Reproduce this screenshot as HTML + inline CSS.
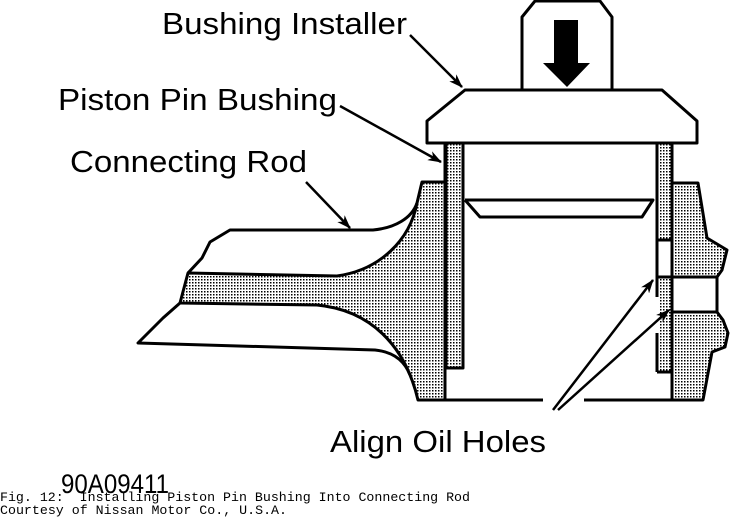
<!DOCTYPE html>
<html><head><meta charset="utf-8"><style>
html,body{margin:0;padding:0;background:#fff;}
svg{display:block;}
</style></head><body>
<svg width="730" height="518" viewBox="0 0 730 518" xmlns="http://www.w3.org/2000/svg">
<defs>
<pattern id="st" width="3" height="3" patternUnits="userSpaceOnUse">
<rect width="3" height="3" fill="#fff"/>
<rect x="0" y="0" width="1.5" height="1.5" fill="#000"/>
</pattern>
<marker id="ah" markerWidth="14" markerHeight="10" refX="13" refY="5" orient="auto" markerUnits="userSpaceOnUse">
<path d="M0,0 L14,5 L0,10 L4,5 Z" fill="#000"/>
</marker>
</defs>
<g stroke="#000" stroke-width="3" fill="none" stroke-linejoin="round">
<path d="M522,90 L522,17 L535,1 L600,1 L612,17 L612,90" fill="#fff"/>
<path d="M465,90 L662,90 L697,121 L697,143 L427,143 L427,121 Z" fill="#fff"/>
<path d="M422,182 L445,182 L445,400 L418,400 C405,345 370,310 317,305 L180,303 L188,273 L337,276 C380,270 410,240 417,203 Z" fill="url(#st)"/>
<path d="M188,273 L202,258 L210,242 L230,230 L373,230 C395,228 412,218 417,203"/>
<path d="M180,303 L163,318 L138,343 L375,350 C395,352 405,362 410,375"/>
<rect x="446" y="143" width="17" height="225" fill="url(#st)"/>
<line x1="445" y1="143" x2="445" y2="400"/>
<line x1="672" y1="143" x2="672" y2="400"/>
<line x1="420" y1="400" x2="543" y2="400"/>
<line x1="584" y1="400" x2="703" y2="400"/>
<path d="M465,200 L653,200 L642,217 L480,217 L465,200"/>
<rect x="657" y="143" width="15" height="97" fill="url(#st)"/>
<rect x="657" y="240" width="15" height="37" fill="#fff"/>
<rect x="660" y="277" width="12" height="56" fill="url(#st)" stroke="none"/>
<line x1="657" y1="277" x2="672" y2="277"/>
<line x1="657" y1="277" x2="657" y2="297"/>
<rect x="658" y="333" width="13" height="39" fill="url(#st)" stroke="none"/>
<line x1="657" y1="333" x2="657" y2="372"/>
<line x1="657" y1="372" x2="672" y2="372"/>
<path d="M672,183 L698,183 L707,238 L727,250 L722,270 L717,277 L672,277 Z" fill="url(#st)"/>
<path d="M672,277 L717,277 L717,312 L672,312" fill="#fff"/>
<path d="M672,312 L717,312 L723,320 L728,333 L725,347 L712,352 L703,400 L672,400 Z" fill="url(#st)"/>
<line x1="672" y1="143" x2="672" y2="400"/>
</g>
<path d="M554,20 L578,20 L578,63 L590,63 L567,87 L543,63 L554,63 Z" fill="#000"/>
<g stroke="#000" stroke-width="2.5" fill="none">
<line x1="410" y1="35" x2="462" y2="87" marker-end="url(#ah)"/>
<line x1="340" y1="106" x2="441" y2="162" marker-end="url(#ah)"/>
<line x1="306" y1="182" x2="350" y2="228" marker-end="url(#ah)"/>
<line x1="553" y1="410" x2="653" y2="280" marker-end="url(#ah)"/>
<line x1="558" y1="410" x2="669" y2="310" marker-end="url(#ah)"/>
</g>
<g font-family="Liberation Sans, Arial, sans-serif" font-size="31" fill="#000">
<text x="162" y="34" textLength="245" lengthAdjust="spacingAndGlyphs">Bushing Installer</text>
<text x="58" y="110" textLength="279" lengthAdjust="spacingAndGlyphs">Piston Pin Bushing</text>
<text x="70" y="172" textLength="237" lengthAdjust="spacingAndGlyphs">Connecting Rod</text>
<text x="330" y="452" textLength="216" lengthAdjust="spacingAndGlyphs">Align Oil Holes</text>
<text x="61" y="493" font-size="27" textLength="108" lengthAdjust="spacingAndGlyphs">90A09411</text>
</g>
<g font-family="Liberation Mono, monospace" font-size="13" fill="#000">
<text x="0" y="501" textLength="470" lengthAdjust="spacingAndGlyphs" xml:space="preserve">Fig. 12:  Installing Piston Pin Bushing Into Connecting Rod</text>
<text x="0" y="514" textLength="287" lengthAdjust="spacingAndGlyphs">Courtesy of Nissan Motor Co., U.S.A.</text>
</g>
</svg>
</body></html>
